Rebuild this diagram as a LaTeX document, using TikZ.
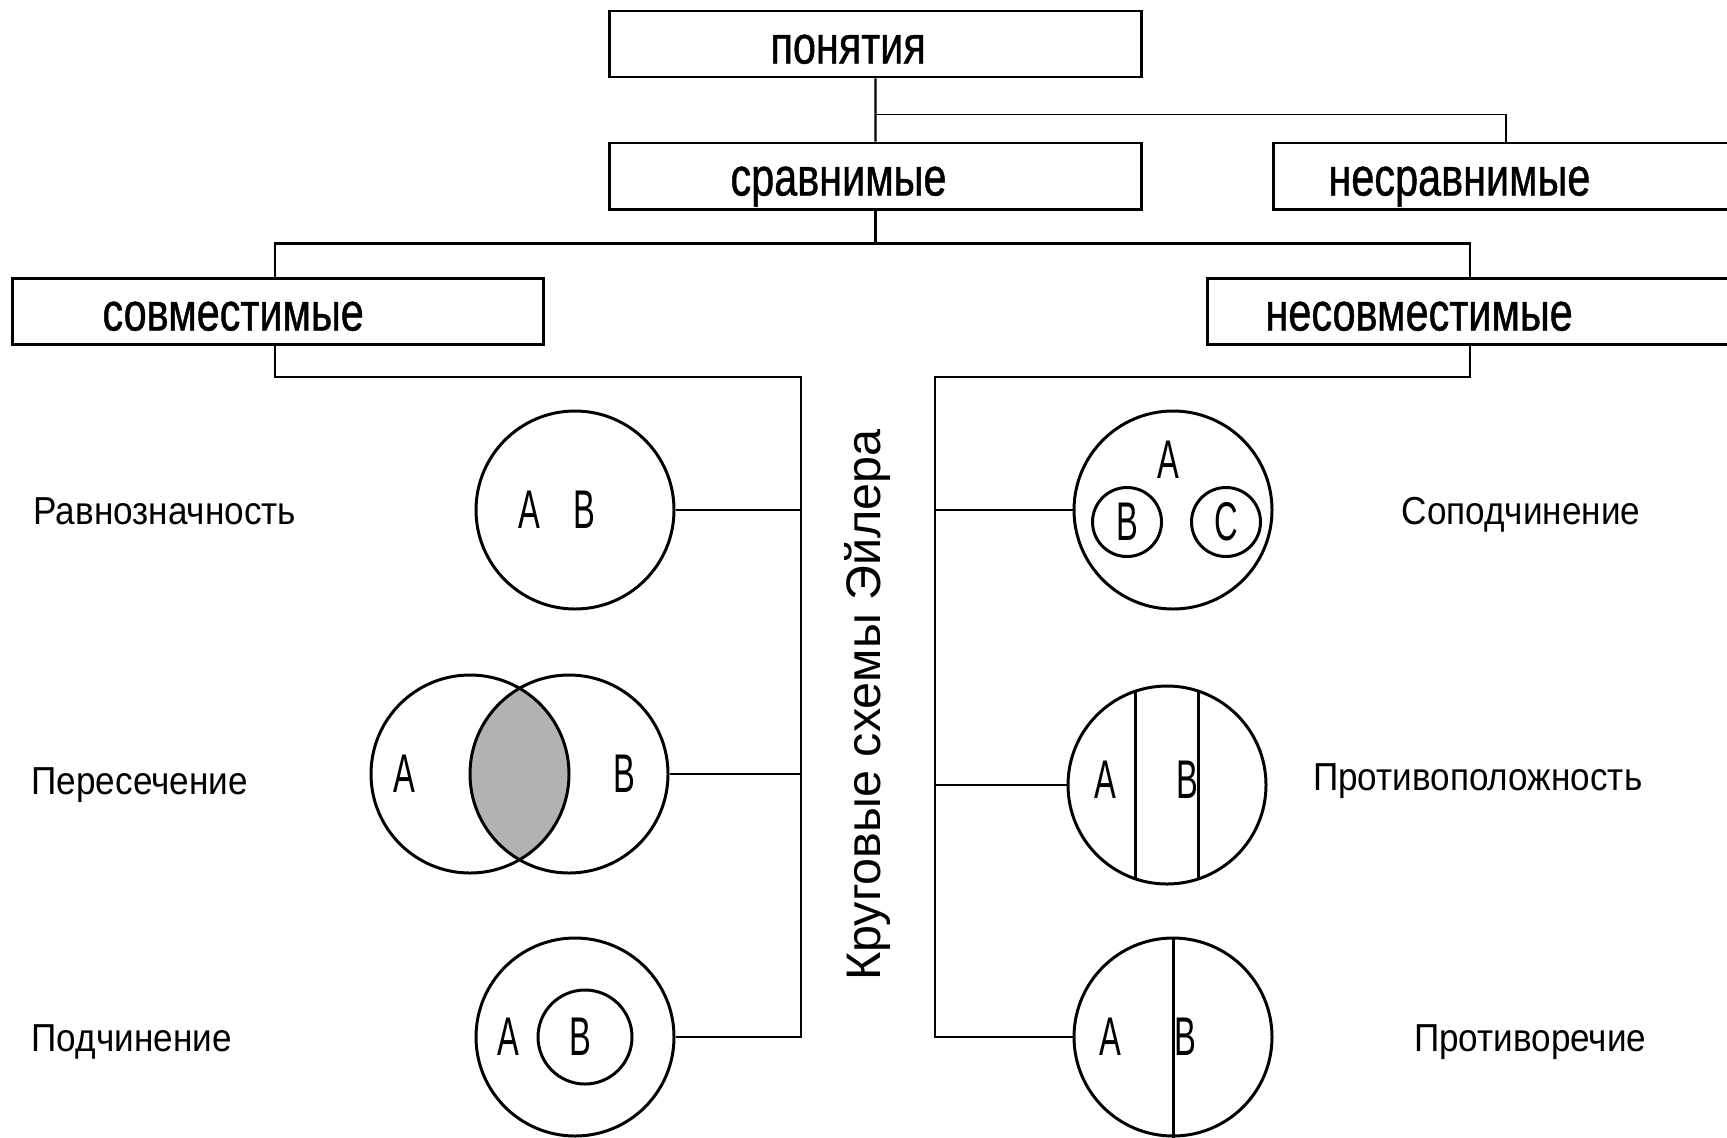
\documentclass[tikz,border=0pt]{standalone}
\usepackage{fontspec}
\setmainfont{Liberation Sans}
\newfontfamily\boxfont[FakeStretch=0.77,FakeBold=0.8]{Liberation Sans}
\newfontfamily\labfont[FakeStretch=0.9]{Liberation Sans}
\newfontfamily\letfont[FakeStretch=0.6]{Liberation Sans}

\tikzset{
  box/.style={draw, line width=0.85pt, minimum height=0.66cm, inner sep=0pt,
    text height=0.39cm, text depth=0pt,
    font=\boxfont\fontsize{15.3}{16}\selectfont},
  boxl/.style={box, align=left, anchor=west},
  euler/.style={draw, circle, line width=0.85pt, minimum size=1.98cm, inner sep=0pt},
  inner/.style={draw, circle, line width=0.85pt, inner sep=0pt},
  lab/.style={font=\labfont\fontsize{11.1}{13}\selectfont, inner sep=0pt,
    text height=0.28cm, text depth=0pt},
  let/.style={font=\letfont\fontsize{15.5}{17}\selectfont, inner sep=0pt},
  link/.style={line width=0.6pt},
}

\begin{document}
\begin{tikzpicture}
    \useasboundingbox (0,0) rectangle (17.27,-11.37);

    % boxes
    \node[boxl, text width=2.10cm, inner xsep=1.61cm] (pon) at (6.08,-0.44) {понятия};
    \node[boxl, text width=2.90cm, inner xsep=1.21cm] (srav) at (6.08,-1.76) {сравнимые};
    \node[boxl, text width=4cm, inner xsep=0.55cm] (nesrav) at (12.72,-1.76) {несравнимые};
    \node[boxl, text width=3.51cm, inner xsep=0.9cm] (sovm) at (0.11,-3.11) {совместимые};
    \node[boxl, text width=4.5cm, inner xsep=0.58cm] (nesovm) at (12.06,-3.11) {несовместимые};

    \draw[link] (pon) -- (srav);
    \draw[line width=0.4pt] ([yshift=-0.36cm]pon.south) -| ([xshift=2.34cm]nesrav.north west);
    \draw[link] (srav.south) -- ++(0,-0.33) coordinate (f2);
    \draw[link] ([xshift=2.64cm]sovm.north west) |- (f2) -| ([xshift=2.64cm]nesovm.north west);

    % lens
    \coordinate (cA) at (4.70,-7.74);
    \coordinate (cB) at (5.69,-7.74);
    \begin{scope}
        \clip (cA) circle (0.99cm);
        \fill[black!30] (cB) circle (0.99cm);
    \end{scope}

    % circles
    \node[euler] (ravn) at (5.75,-5.10) {};
    \node[euler] (perA) at (cA) {};
    \node[euler] (perB) at (cB) {};
    \node[euler] (podch) at (5.75,-10.37) {};
    \node[euler] (sopod) at (11.73,-5.10) {};
    \node[euler] (protpol) at (11.67,-7.85) {};
    \node[euler] (protr) at (11.73,-10.37) {};
    \node[inner, minimum size=0.94cm] (podB) at (5.85,-10.37) {};
    \node[inner, minimum size=0.69cm] (sopB) at (11.27,-5.22) {};
    \node[inner, minimum size=0.69cm] (sopC) at (12.26,-5.22) {};
    \draw[line width=0.85pt] ([shift={(-0.32,0.937)}]protpol.center) -- ([shift={(-0.32,-0.937)}]protpol.center);
    \draw[line width=0.85pt] ([shift={(0.31,0.94)}]protpol.center) -- ([shift={(0.31,-0.94)}]protpol.center);
    \draw[line width=0.85pt] (protr.north) -- (protr.south);

    % letters
    \node[let] (ravnA) at (5.29,-5.10) {A};
    \node[let] (ravnB) at (5.84,-5.10) {B};
    \node[let] (perAt) at (4.04,-7.74) {A};
    \node[let] (perBt) at (6.24,-7.74) {B};
    \node[let] (podA) at (5.08,-10.37) {A};
    \node[let] (podBt) at (5.80,-10.37) {B};
    \node[let] (sopA) at (11.68,-4.60) {A};
    \node[let] (sopBt) at (sopB) {B};
    \node[let] (sopCt) at (sopC) {C};
    \node[let] (polA) at (11.05,-7.80) {A};
    \node[let] (polB) at (11.87,-7.80) {B};
    \node[let] (trA) at (11.10,-10.37) {A};
    \node[let] (trB) at (11.85,-10.37) {B};

    % buses
    \coordinate (lt) at (8.01,-3.77);
    \coordinate (lb) at (8.01,-10.37);
    \coordinate (rt) at (9.35,-3.77);
    \coordinate (rb) at (9.35,-10.37);
    \draw[link] ([xshift=2.64cm]sovm.south west) |- (lt) -- (lb) -- (podch.east);
    \draw[link] (ravn.east) -- (ravn.east -| lt);
    \draw[link] (perB.east) -- (perB.east -| lt);
    \draw[link] ([xshift=2.64cm]nesovm.south west) |- (rt) -- (rb) -- (protr.west);
    \draw[link] (sopod.west) -- (sopod.west -| rt);
    \draw[link] (protpol.west) -- (protpol.west -| rt);

    \node[rotate=90, font=\fontsize{13.8}{15}\selectfont] (title) at (8.68,-7.05) {Круговые схемы Эйлера};

    % labels
    \node[lab, anchor=west] (l1) at (0.33,-5.10) {Равнозначность};
    \node[lab, anchor=west] (l2) at (0.31,-7.80) {Пересечение};
    \node[lab, anchor=west] (l3) at (0.31,-10.37) {Подчинение};
    \node[lab, anchor=east] (r1) at (16.41,-5.10) {Соподчинение};
    \node[lab, anchor=east] (r2) at (16.43,-7.76) {Противоположность};
    \node[lab, anchor=east] (r3) at (16.47,-10.37) {Противоречие};
\end{tikzpicture}
\end{document}
